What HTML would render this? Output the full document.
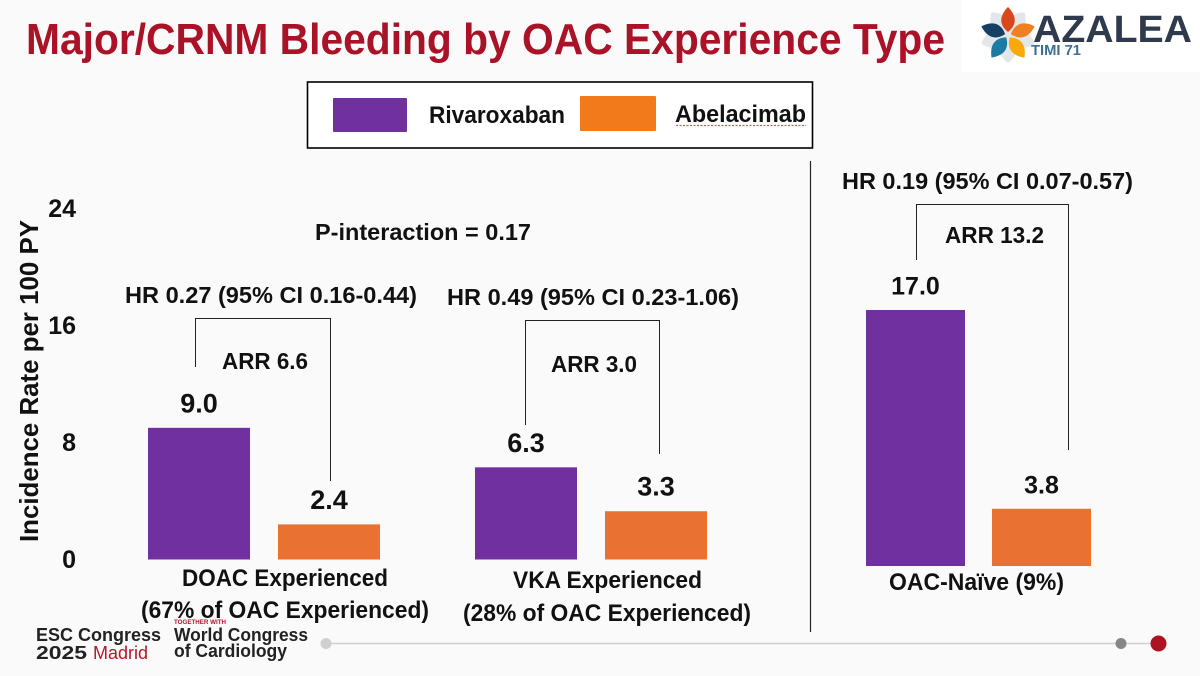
<!DOCTYPE html>
<html lang="en">
<head>
<meta charset="utf-8">
<title>Major/CRNM Bleeding by OAC Experience Type</title>
<style>
html,body{margin:0;padding:0;background:#fafafa;}
#stage{display:block;width:1200px;height:676px;}
text{font-family:"Liberation Sans",sans-serif;font-weight:700;fill:#111;}
</style>
</head>
<body>
<svg id="stage" xmlns="http://www.w3.org/2000/svg" width="1200" height="676" viewBox="0 0 1200 676">
  <rect x="0" y="0" width="1200" height="676" fill="#fafafa"/>
  <text x="26" y="54" font-size="44" textLength="919" lengthAdjust="spacingAndGlyphs" style="fill:#a91227">Major/CRNM Bleeding by OAC Experience Type</text>

  <g>
    <rect x="962" y="0" width="238" height="72" fill="#ffffff"/>
    <g transform="translate(1008,35)">
      <g fill="#e3e7ea">
        <path d="M0,0C-11,-8 -11,-20 0,-28C11,-20 11,-8 0,0Z" transform="rotate(36)"/>
        <path d="M0,0C-11,-8 -11,-20 0,-28C11,-20 11,-8 0,0Z" transform="rotate(108)"/>
        <path d="M0,0C-11,-8 -11,-20 0,-28C11,-20 11,-8 0,0Z" transform="rotate(180)"/>
        <path d="M0,0C-11,-8 -11,-20 0,-28C11,-20 11,-8 0,0Z" transform="rotate(252)"/>
        <path d="M0,0C-11,-8 -11,-20 0,-28C11,-20 11,-8 0,0Z" transform="rotate(324)"/>
      </g>
      <path d="M0,-3C-9,-10 -9,-19 0,-28C9,-19 9,-10 0,-3Z" fill="#d9481c"/>
      <path d="M0,-3C-9,-10 -9,-19 0,-28C9,-19 9,-10 0,-3Z" fill="#f0801f" transform="rotate(72)"/>
      <path d="M0,-3C-9,-10 -9,-19 0,-28C9,-19 9,-10 0,-3Z" fill="#f9a90f" transform="rotate(144)"/>
      <path d="M0,-3C-9,-10 -9,-19 0,-28C9,-19 9,-10 0,-3Z" fill="#1c7ba4" transform="rotate(216)"/>
      <path d="M0,-3C-9,-10 -9,-19 0,-28C9,-19 9,-10 0,-3Z" fill="#173f63" transform="rotate(288)"/>
    </g>
    <text x="1033" y="42" font-size="38" textLength="159" lengthAdjust="spacingAndGlyphs" style="fill:#2f3a4d">AZALEA</text>
    <text x="1031" y="55" font-size="15" textLength="50" lengthAdjust="spacingAndGlyphs" style="fill:#3f6f8e">TIMI 71</text>
  </g>

  <g>
    <rect x="307.5" y="82" width="505" height="66" fill="#ffffff" stroke="#000" stroke-width="1.6"/>
    <rect x="333" y="98" width="74" height="34" rx="1" fill="#7030a0"/>
    <text x="429" y="123" font-size="24" textLength="136" lengthAdjust="spacingAndGlyphs">Rivaroxaban</text>
    <rect x="580" y="96" width="76" height="35" rx="1" fill="#f27a1a"/>
    <text x="675" y="122" font-size="24" textLength="131" lengthAdjust="spacingAndGlyphs">Abelacimab</text>
    <line x1="676" y1="125.500" x2="806" y2="125.500" stroke="#e2505a" stroke-width="1.200" stroke-dasharray="2 1.500"/>
  </g>

  <g id="y-axis">
    <text transform="translate(38,542) rotate(-90)" x="0" y="0" font-size="26" textLength="322" lengthAdjust="spacingAndGlyphs">Incidence Rate per 100 PY</text>
  </g>
  <g id="bars"></g>

  <text x="315" y="240" font-size="23" textLength="216" lengthAdjust="spacingAndGlyphs">P-interaction = 0.17</text>

  <g>
    <text x="125" y="303" font-size="23" textLength="292" lengthAdjust="spacingAndGlyphs">HR 0.27 (95% CI 0.16-0.44)</text>
    <path d="M195.500,367V318.500H330.500V481" fill="none" stroke="#222" stroke-width="1"/>
    <text x="222" y="369" font-size="23" textLength="86" lengthAdjust="spacingAndGlyphs">ARR 6.6</text>
  </g>
  <g>
    <text x="447" y="305" font-size="23" textLength="292" lengthAdjust="spacingAndGlyphs">HR 0.49 (95% CI 0.23-1.06)</text>
    <path d="M525.500,425V320.500H659.500V454" fill="none" stroke="#222" stroke-width="1"/>
    <text x="551" y="372" font-size="23" textLength="86" lengthAdjust="spacingAndGlyphs">ARR 3.0</text>
  </g>
  <g>
    <text x="842" y="189" font-size="23" textLength="291" lengthAdjust="spacingAndGlyphs">HR 0.19 (95% CI 0.07-0.57)</text>
    <path d="M916.500,260V204.500H1068.500V450" fill="none" stroke="#222" stroke-width="1"/>
    <text x="945" y="243" font-size="23" textLength="99" lengthAdjust="spacingAndGlyphs">ARR 13.2</text>
  </g>

  <line x1="810.500" y1="161" x2="810.500" y2="632" stroke="#222" stroke-width="1.200"/>

  <text x="182" y="586" font-size="24" textLength="206" lengthAdjust="spacingAndGlyphs">DOAC Experienced</text>
  <text x="141" y="618" font-size="24" textLength="288" lengthAdjust="spacingAndGlyphs">(67% of OAC Experienced)</text>
  <text x="513" y="588" font-size="24" textLength="189" lengthAdjust="spacingAndGlyphs">VKA Experienced</text>
  <text x="463" y="621" font-size="24" textLength="288" lengthAdjust="spacingAndGlyphs">(28% of OAC Experienced)</text>
  <text x="889" y="590" font-size="24" textLength="175" lengthAdjust="spacingAndGlyphs">OAC-Naïve (9%)</text>

  <g>
    <text x="36" y="641" font-size="18" textLength="125" lengthAdjust="spacingAndGlyphs" style="fill:#222">ESC Congress</text>
    <text x="36" y="659" font-size="18" textLength="51" lengthAdjust="spacingAndGlyphs" style="fill:#222">2025</text>
    <text x="93" y="659" font-size="18" textLength="55" lengthAdjust="spacingAndGlyphs" style="fill:#b5162c;font-weight:400">Madrid</text>
    <text x="174" y="624" font-size="6" textLength="52" lengthAdjust="spacingAndGlyphs" style="fill:#b5162c">TOGETHER WITH</text>
    <text x="174" y="641" font-size="18" textLength="134" lengthAdjust="spacingAndGlyphs" style="fill:#222">World Congress</text>
    <text x="174" y="657" font-size="18" textLength="113" lengthAdjust="spacingAndGlyphs" style="fill:#222">of Cardiology</text>
    <line x1="326" y1="643.500" x2="1158" y2="643.500" stroke="#cfcfcf" stroke-width="1.500"/>
    <circle cx="326" cy="643.500" r="5.500" fill="#cfcfcf"/>
    <circle cx="1121" cy="643.500" r="5.500" fill="#868686"/>
    <circle cx="1158.500" cy="643.500" r="8" fill="#ac1424"/>
  </g>
</svg>
<script>
const categories = ['doac', 'vka', 'naive'];
const rivaroxaban = [9.0, 6.3, 17.0];
const abelacimab = [2.4, 3.3, 3.8];
const valueLabels = [['9.0', '6.3', '17.0'], ['2.4', '3.3', '3.8']];
const yTicks = [0, 8, 16, 24];
const seriesNames = ['rivaroxaban', 'abelacimab'];

const NS = 'http://www.w3.org/2000/svg';
const barsGroup = document.getElementById('bars');
const axisGroup = document.getElementById('y-axis');

function yAxisLeft(v) { return 559.5 - v * 14.63; }
function yAxisRight(v) { return 566 - v * 15.06; }
function yScale(groupIndex, v) { return groupIndex < 2 ? yAxisLeft(v) : yAxisRight(v); }
function barWidth(groupIndex) { return groupIndex < 2 ? 102 : 99; }
function barX(groupIndex, seriesIndex) {
  if (groupIndex < 2) return 148 + groupIndex * 327 + seriesIndex * 130;
  return 866 + seriesIndex * 126;
}

yTicks.forEach(function (tick) {
  const el = document.createElementNS(NS, 'text');
  
  
  el.setAttribute('x', 76);
  el.setAttribute('y', yAxisLeft(tick) + 8.5);
  el.setAttribute('text-anchor', 'end');
  el.setAttribute('font-size', '25');
  el.textContent = tick;
  axisGroup.appendChild(el);
});

[rivaroxaban, abelacimab].forEach(function (series, s) {
  series.forEach(function (value, g) {
    const rect = document.createElementNS(NS, 'rect');
    
    
    const top = yScale(g, value);
    const base = yScale(g, 0);
    rect.setAttribute('x', barX(g, s));
    rect.setAttribute('y', top);
    rect.setAttribute('width', barWidth(g));
    rect.setAttribute('height', base - top);
    rect.setAttribute('fill', s === 0 ? '#7030a0' : '#e97132');
    barsGroup.appendChild(rect);

    const label = document.createElementNS(NS, 'text');
    
    
    label.setAttribute('x', barX(g, s) + barWidth(g) / 2);
    label.setAttribute('y', top - 15.5);
    label.setAttribute('text-anchor', 'middle');
    label.setAttribute('font-size', g === 2 ? '25' : '27');
    label.textContent = valueLabels[s][g];
    barsGroup.appendChild(label);
  });
});
</script>
</body>
</html>
